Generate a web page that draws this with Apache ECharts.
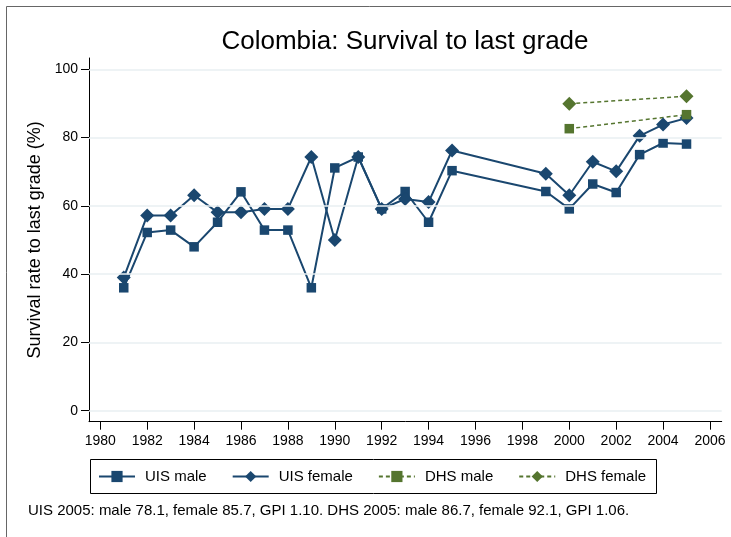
<!DOCTYPE html>
<html>
<head>
<meta charset="utf-8">
<script src="https://cdn.jsdelivr.net/npm/echarts@6/dist/echarts.min.js"></script>
<style>html,body{margin:0;padding:0;background:#fff}#c{width:731px;height:537px}</style>
</head>
<body>
<div id="c"></div>
<script>
const uisYears = [1981,1982,1983,1984,1985,1986,1987,1988,1989,1990,1991,1992,1993,1994,1995,1999,2000,2001,2002,2003,2004,2005];
const uisMale =   [36.0,52.2,52.9,48.0,55.2,64.1,52.9,52.9,36.0,71.1,74.3,59.1,64.2,55.2,70.3,64.2,59.1,66.4,63.9,75.0,78.4,78.1];
const uisFemale = [39.0,57.2,57.2,63.1,58.1,58.1,59.1,59.1,74.3,50.0,74.3,59.1,62.0,61.1,76.2,69.4,63.1,72.9,70.1,80.5,83.8,85.7];
const dhsYears = [2000,2005];
const dhsMale = [82.6,86.7];
const dhsFemale = [89.9,92.1];
const xTicks = [1980,1982,1984,1986,1988,1990,1992,1994,1996,1998,2000,2002,2004,2006];
const yTicks = [0,20,40,60,80,100];
const seriesNames = ['UIS male','UIS female','DHS male','DHS female'];
const titleText = 'Colombia: Survival to last grade';
const yTitle = 'Survival rate to last grade (%)';
const noteText = 'UIS 2005: male 78.1, female 85.7, GPI 1.10. DHS 2005: male 86.7, female 92.1, GPI 1.06.';

const NAVY = '#1a476f', GREEN = '#55752f';
const FONT = '"Liberation Sans", Arial, sans-serif';
const pair = (xs, ys) => xs.map((x, i) => [x, ys[i]]);

const chart = echarts.init(document.getElementById('c'), null, {renderer: 'canvas'});
chart.setOption({
  animation: false,
  backgroundColor: '#fff',
  textStyle: {fontFamily: FONT},
  grid: {left: 89, right: 9.3, top: 58, bottom: 115.3, containLabel: false},
  graphic: [
    {type: 'rect', shape: {x: 6.5, y: 6.5, width: 760, height: 560}, style: {fill: 'none', stroke: '#666', lineWidth: 1}, z: 0, silent: true},
    {type: 'text', x: 405, y: 42, style: {text: titleText, fontFamily: FONT, fontSize: 26, fill: '#000', align: 'center', verticalAlign: 'middle'}},
    {type: 'rect', shape: {x: 90.5, y: 459.5, width: 566, height: 34}, style: {fill: 'none', stroke: '#000', lineWidth: 1}, silent: true},
    {type: 'text', x: 28, y: 511, style: {text: noteText, fontFamily: FONT, fontSize: 15, fill: '#000', align: 'left', verticalAlign: 'middle'}}
  ],
  legend: {
    data: seriesNames,
    left: 98, top: 469, padding: 0,
    itemWidth: 36, itemHeight: 14, itemGap: 25,
    textStyle: {fontFamily: FONT, fontSize: 15, color: '#000', padding: [0, 0, 0, 5]}
  },
  xAxis: {
    type: 'value', min: 1979.518, max: 2006.50,
    axisLine: {show: true, onZero: false, lineStyle: {color: '#000', width: 1}},
    axisTick: {show: true, length: 8, customValues: xTicks, lineStyle: {color: '#000'}},
    axisLabel: {customValues: xTicks, fontFamily: FONT, fontSize: 14, color: '#000', margin: 12, formatter: v => String(v)},
    splitLine: {show: false}
  },
  yAxis: {
    type: 'value', min: -3.22, max: 103.3,
    name: yTitle, nameLocation: 'middle', nameGap: 39, nameRotate: 90,
    nameTextStyle: {fontFamily: FONT, fontSize: 18, color: '#000'},
    axisLine: {show: true, onZero: false, lineStyle: {color: '#000', width: 1}},
    axisTick: {show: true, length: 8, customValues: yTicks, lineStyle: {color: '#000'}},
    axisLabel: {customValues: yTicks, fontFamily: FONT, fontSize: 14, color: '#000', margin: 11, formatter: v => String(v)},
    splitLine: {show: false}
  },
  series: [
    {
      name: '_grid', type: 'line', data: [], silent: true, z: 1,
      markLine: {silent: true, symbol: 'none', label: {show: false},
        lineStyle: {color: '#e8eff2', width: 1.5, type: 'solid'},
        data: yTicks.map(v => ({yAxis: v}))}
    },
    {name: seriesNames[0], type: 'line', data: pair(uisYears, uisMale), symbol: 'rect', symbolSize: 9.5,
     itemStyle: {color: NAVY}, lineStyle: {color: NAVY, width: 2}, z: 3},
    {name: seriesNames[1], type: 'line', data: pair(uisYears, uisFemale), symbol: 'diamond', symbolSize: 14,
     itemStyle: {color: NAVY}, lineStyle: {color: NAVY, width: 2}, z: 3},
    {name: seriesNames[2], type: 'line', data: pair(dhsYears, dhsMale), symbol: 'rect', symbolSize: 9.5,
     itemStyle: {color: GREEN}, lineStyle: {color: GREEN, width: 1.5, type: [4, 3]}, z: 3},
    {name: seriesNames[3], type: 'line', data: pair(dhsYears, dhsFemale), symbol: 'diamond', symbolSize: 14,
     itemStyle: {color: GREEN}, lineStyle: {color: GREEN, width: 1.5, type: [4, 3]}, z: 3}
  ]
});
</script>
</body>
</html>
